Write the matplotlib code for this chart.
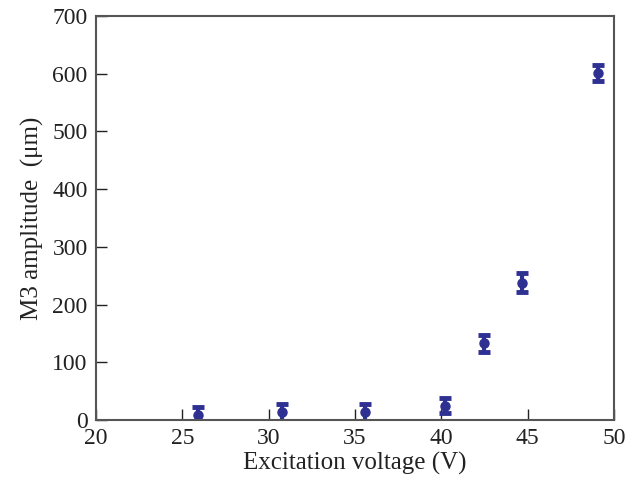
import matplotlib
matplotlib.use("Agg")
import matplotlib.pyplot as plt
import numpy as np

plt.rcParams['font.family'] = ['Liberation Serif', 'DejaVu Serif']

voltage = [25.9, 30.8, 35.6, 40.2, 42.5, 44.7, 49.1]
amplitude = [8, 13, 13, 25, 133, 238, 601]
err = [14, 15, 15, 13, 15, 16, 14]

fig = plt.figure(figsize=(6.35, 4.84), dpi=100)
ax = fig.add_axes([96/635, 1-420/484, (614-96)/635, (420-16)/484])

ax.errorbar(voltage, amplitude, yerr=err, fmt='o', color='#2E3192',
            markersize=6.5, elinewidth=3, capsize=4.5, capthick=3.5)

ax.set_xlim(20, 50)
ax.set_ylim(0, 700)
ax.set_xticks(np.arange(20, 51, 5))
ax.set_yticks(np.arange(0, 701, 100))
ax.tick_params(direction='in', length=8, width=1, labelsize=17, colors='#222222',
               top=False, right=False, pad=6)
for s in ax.spines.values():
    s.set_color('#555555')
    s.set_linewidth(1.5)

ax.set_xlabel('Excitation voltage (V)', fontsize=18, color='#222222', labelpad=2)
ax.set_ylabel('M3 amplitude  (μm)', fontsize=18, color='#222222', labelpad=6)

fig.savefig('out.png', dpi=100)
